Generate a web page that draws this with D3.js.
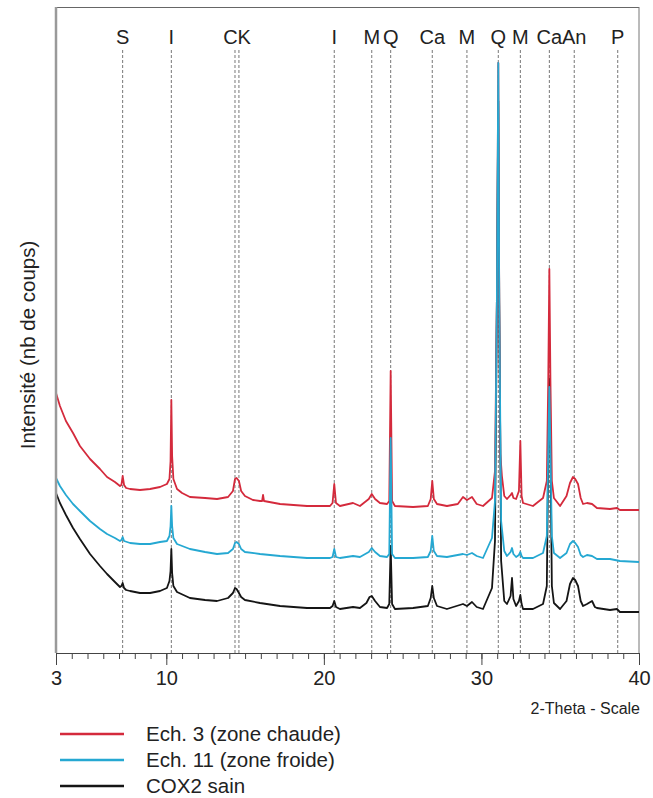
<!DOCTYPE html>
<html><head><meta charset="utf-8">
<script src="https://cdn.jsdelivr.net/npm/d3@7"></script>
<style>
html,body{margin:0;padding:0;background:#fff;}
svg text{font-family:Arial,"Liberation Sans",sans-serif;fill:#222;}
</style></head>
<body><svg id="c" width="653" height="798"></svg>
<script>
// ---- data: [2-theta, intensity (arbitrary counts)] ----
const ech3 = [
[3.00,260],[3.25,247],[3.63,232],[4.08,220],[4.52,207],[5.16,194],[5.79,184],[6.24,176],[6.74,171],[7.06,167],
[7.15,168],[7.23,177],[7.32,168],[7.45,165],[7.70,164],[8.33,163],[8.97,164],[9.60,166],[10.04,169],[10.20,174],
[10.27,192],[10.32,253],[10.37,197],[10.45,174],[10.68,164],[11.00,160],[11.50,156],[12.46,155],[13.22,154],[13.92,156],
[14.23,162],[14.36,174],[14.46,175],[14.61,172],[14.75,162],[14.99,157],[15.50,153],[15.95,152],[16.08,152],[16.14,158],
[16.20,152],[17.22,149],[18.93,147],[20.39,147],[20.55,150],[20.66,169],[20.77,150],[21.02,147],[21.85,150],[22.29,147],
[22.85,154],[23.04,159],[23.25,154],[23.56,150],[24.01,149],[24.15,152],[24.24,282],[24.33,152],[24.51,147],[25.66,146],
[26.60,147],[26.78,154],[26.88,172],[26.98,154],[27.18,149],[27.81,147],[28.50,149],[28.83,156],[29.08,153],[29.40,156],
[29.70,149],[30.10,147],[30.67,155],[30.86,182],[30.98,352],[31.07,590],[31.13,352],[31.20,199],[31.30,177],[31.45,157],
[31.62,154],[31.85,158],[31.94,160],[32.03,155],[32.20,154],[32.38,162],[32.47,212],[32.55,157],[32.64,150],[33.27,147],
[33.91,155],[34.15,172],[34.24,272],[34.31,384],[34.38,272],[34.47,172],[34.60,155],[34.99,147],[35.40,157],[35.62,170],
[35.81,176],[35.95,174],[36.13,169],[36.30,155],[36.45,149],[36.70,150],[37.02,149],[37.33,145],[38.16,144],[38.60,145],
[38.79,143],[40.00,143]
];
const ech11 = [
[3.00,175],[3.25,167],[3.63,158],[4.08,149],[4.52,142],[5.16,132],[5.79,124],[6.24,119],[6.74,115],[7.06,112],
[7.15,113],[7.23,116],[7.32,112],[7.70,110],[8.33,109],[8.97,109],[9.60,111],[10.04,112],[10.20,117],[10.27,127],
[10.32,147],[10.37,127],[10.45,115],[10.68,109],[11.50,104],[12.46,101],[13.22,99],[13.92,100],[14.23,104],[14.36,110],
[14.46,111],[14.61,109],[14.75,104],[14.99,101],[15.95,99],[17.22,97],[18.93,95],[20.39,95],[20.55,96],[20.66,104],
[20.77,96],[21.02,95],[21.85,97],[22.29,96],[22.85,101],[23.04,105],[23.25,101],[23.56,97],[24.01,96],[24.15,99],
[24.24,215],[24.33,99],[24.51,95],[25.66,95],[26.60,96],[26.78,102],[26.88,117],[26.98,102],[27.18,97],[27.81,96],
[28.83,99],[29.08,98],[29.40,100],[29.70,97],[30.10,95],[30.67,115],[30.86,152],[30.98,352],[31.07,590],[31.13,352],
[31.25,132],[31.45,102],[31.62,97],[31.85,101],[31.94,105],[32.03,99],[32.20,96],[32.38,98],[32.47,101],[32.55,97],
[32.64,95],[33.27,95],[33.91,100],[34.15,117],[34.24,202],[34.31,266],[34.38,202],[34.47,117],[34.60,100],[34.99,95],
[35.40,100],[35.62,109],[35.81,112],[35.95,110],[36.13,106],[36.30,98],[36.45,96],[36.70,98],[37.02,97],[37.33,94],
[38.16,94],[38.79,92],[40.00,91]
];
const cox2 = [
[3.00,160],[3.25,150],[3.63,138],[4.08,125],[4.52,114],[5.16,99],[5.79,87],[6.24,79],[6.74,71],[7.06,66],
[7.15,67],[7.23,70],[7.32,65],[7.45,63],[7.70,62],[8.33,60],[8.97,60],[9.60,62],[10.04,65],[10.20,72],
[10.27,82],[10.32,104],[10.37,80],[10.45,67],[10.68,61],[11.50,55],[12.46,53],[13.22,52],[13.92,55],[14.23,60],
[14.36,65],[14.46,64],[14.61,60],[14.75,56],[14.99,53],[15.95,50],[17.22,47],[18.93,45],[20.39,45],[20.55,47],
[20.66,52],[20.77,46],[21.02,44],[21.85,46],[22.29,45],[22.70,50],[22.90,56],[23.04,57],[23.25,52],[23.56,46],
[24.01,45],[24.15,49],[24.24,107],[24.33,49],[24.51,44],[25.66,45],[26.60,47],[26.78,55],[26.88,67],[26.98,55],
[27.18,47],[27.81,44],[28.83,49],[29.08,47],[29.40,51],[29.70,46],[30.10,44],[30.67,65],[30.86,112],[30.98,352],
[31.07,552],[31.13,352],[31.25,92],[31.45,52],[31.62,49],[31.85,57],[31.94,75],[32.03,54],[32.20,47],[32.38,52],
[32.47,58],[32.55,49],[32.64,44],[33.27,44],[33.91,49],[34.15,67],[34.24,202],[34.31,274],[34.38,202],[34.47,67],
[34.60,50],[34.99,44],[35.40,52],[35.62,69],[35.81,75],[35.95,73],[36.13,67],[36.30,52],[36.45,47],[36.70,49],
[37.02,52],[37.20,46],[37.33,45],[38.16,43],[38.60,44],[38.79,41],[40.00,41]
];
// phase reference lines
const phaseLabels = ["S","I","CK","I","M","Q","Ca","M","Q","M","Ca","An","P"];
const phaseLabelPos = [7.23,10.32,14.49,20.66,23.04,24.24,26.88,29.08,31.07,32.47,34.31,35.89,38.65];
const refLines = [7.23,10.32,14.36,14.61,20.66,23.04,24.24,26.88,29.08,31.07,32.47,34.31,35.89,38.65];
const majorTicks = [3,10,20,30,40];
const seriesNames = ["Ech. 3 (zone chaude)","Ech. 11 (zone froide)","COX2 sain"];
const seriesColors = ["#d42a3c","#25a8d2","#151515"];
const seriesData = [ech3, ech11, cox2];

const svg = d3.select("#c");
const x = d3.scaleLinear().domain([3,40]).range([56,639]);
const y = d3.scaleLinear().domain([0,645]).range([653,8]);

// frame
svg.append("line").attr("x1",56).attr("x2",639).attr("y1",7.5).attr("y2",7.5).attr("stroke","#666").attr("stroke-width",1);
svg.append("line").attr("x1",639).attr("x2",639).attr("y1",7).attr("y2",653).attr("stroke","#777").attr("stroke-width",1);

// reference dashed lines
svg.append("g").selectAll("line").data(refLines).join("line")
  .attr("x1",d=>x(d)).attr("x2",d=>x(d)).attr("y1",50).attr("y2",653)
  .attr("stroke","#777").attr("stroke-width",1).attr("stroke-dasharray","3,2");

// phase labels
svg.append("g").selectAll("text").data(phaseLabels).join("text")
  .attr("x",(d,i)=>x(phaseLabelPos[i])).attr("y",44)
  .attr("text-anchor","middle").attr("font-size",20).text(d=>d);

// curves (draw black, red, cyan so cyan is on top)
const line = d3.line().x(d=>x(d[0])).y(d=>y(d[1]));
[2,0,1].forEach(i=>{
  svg.append("path").datum(seriesData[i]).attr("d",line)
    .attr("fill","none").attr("stroke",seriesColors[i]).attr("stroke-width",1.8)
    .attr("stroke-linejoin","round");
});

// left axis line
svg.append("line").attr("x1",56).attr("x2",56).attr("y1",7).attr("y2",653).attr("stroke","#9a9a9a").attr("stroke-width",2.5);

// bottom axis
const xAxis = d3.axisBottom(x).tickValues(d3.range(3,41,1)).tickSize(6).tickFormat("");
const gx = svg.append("g").attr("transform","translate(0,653)").call(xAxis);
gx.select(".domain").attr("stroke","#444");
gx.selectAll(".tick line").attr("stroke","#444");
const gx2 = svg.append("g").attr("transform","translate(0,653)")
  .call(d3.axisBottom(x).tickValues(majorTicks).tickSize(12).tickPadding(6).tickFormat(d3.format("d")));
gx2.select(".domain").remove();
gx2.selectAll(".tick line").attr("stroke","#444");
gx2.selectAll(".tick text").attr("font-size",20).attr("font-family","Arial,'Liberation Sans',sans-serif").attr("fill","#222");

svg.append("text").attr("x",640).attr("y",714).attr("text-anchor","end").attr("font-size",16).text("2-Theta - Scale");

svg.append("text").attr("transform","translate(35,345) rotate(-90)").attr("text-anchor","middle")
  .attr("font-size",20.5).text("Intensité (nb de coups)");

// legend
const lg = svg.append("g");
const ly = [734,760,786];
seriesNames.forEach((n,i)=>{
  lg.append("line").attr("x1",60).attr("x2",124).attr("y1",ly[i]).attr("y2",ly[i])
    .attr("stroke",seriesColors[i]).attr("stroke-width",2.5);
  lg.append("text").attr("x",146).attr("y",ly[i]+7).attr("font-size",20.5).text(n);
});
</script></body></html>
